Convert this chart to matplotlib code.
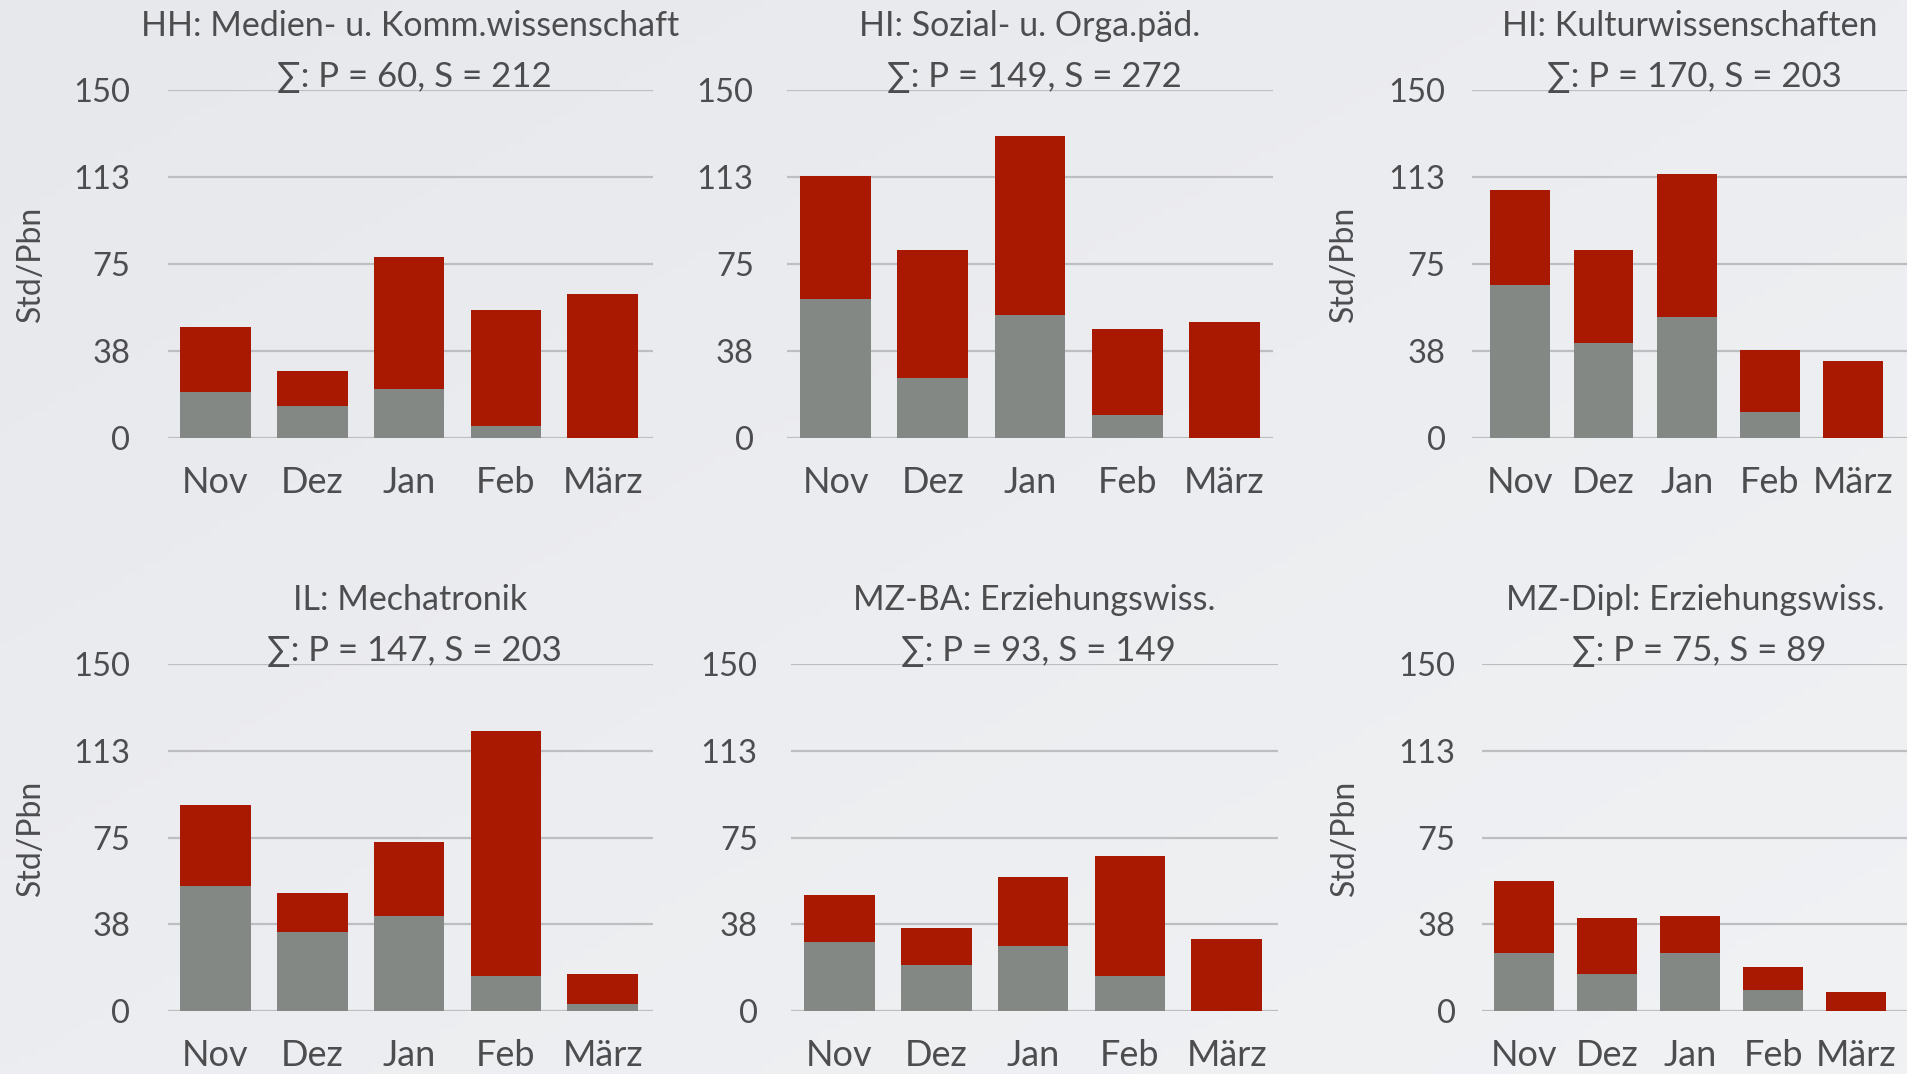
import numpy as np
import matplotlib
matplotlib.use("Agg")
import matplotlib.pyplot as plt

plt.rcParams['font.family'] = ['Lato', 'DejaVu Sans']

months = ["Nov", "Dez", "Jan", "Feb", "März"]
yticks = [0, 37.5, 75, 112.5, 150]
ytick_labels = ["0", "38", "75", "113", "150"]

titles = [
    "HH: Medien- u. Komm.wissenschaft",
    "HI: Sozial- u. Orga.päd.",
    "HI: Kulturwissenschaften",
    "IL: Mechatronik",
    "MZ-BA: Erziehungswiss.",
    "MZ-Dipl: Erziehungswiss.",
]
sums = [
    "∑: P = 60, S = 212",
    "∑: P = 149, S = 272",
    "∑: P = 170, S = 203",
    "∑: P = 147, S = 203",
    "∑: P = 93, S = 149",
    "∑: P = 75, S = 89",
]

# gray part (P) and red part (S) per month
p_hh_medien = [20, 14, 21, 5, 0]
s_hh_medien = [28, 15, 57, 50, 62]
p_hi_sozial = [60, 26, 53, 10, 0]
s_hi_sozial = [53, 55, 77, 37, 50]
p_hi_kultur = [66, 41, 52, 11, 0]
s_hi_kultur = [41, 40, 62, 27, 33]
p_il_mecha = [54, 34, 41, 15, 3]
s_il_mecha = [35, 17, 32, 106, 13]
p_mz_ba = [30, 20, 28, 15, 0]
s_mz_ba = [20, 16, 30, 52, 31]
p_mz_dipl = [25, 16, 25, 9, 0]
s_mz_dipl = [31, 24, 16, 10, 8]

p_vals = [p_hh_medien, p_hi_sozial, p_hi_kultur, p_il_mecha, p_mz_ba, p_mz_dipl]
s_vals = [s_hh_medien, s_hi_sozial, s_hi_kultur, s_il_mecha, s_mz_ba, s_mz_dipl]

# layout: axes rect (px), xlim, bar width, tick pad, ylabel x (None = no label)
W, H = 1908, 1074
layout = [
    ((168, 90, 653, 438), (-0.49, 4.52), 0.73, 27, -0.252),
    ((787, 90, 1273, 438), (-0.50, 4.50), 0.73, 24, None),
    ((1472, 90, 1908, 438), (-0.58, 4.66), 0.72, 19, -0.259),
    ((168, 664, 653, 1011), (-0.49, 4.52), 0.73, 27, -0.252),
    ((791, 664, 1278, 1011), (-0.50, 4.53), 0.73, 24, None),
    ((1482, 664, 1908, 1011), (-0.50, 4.62), 0.72, 19, -0.286),
]

text_col = "#4d4d4f"
red = "#a91800"
gray = "#838884"
grid_col = "#bdbec0"

fig = plt.figure(figsize=(W / 100, H / 100), dpi=100)
fig.patch.set_facecolor("#ecedf0")

# soft background gradient
bg = fig.add_axes([0, 0, 1, 1], zorder=-10)
gx = np.linspace(0, 1, 200)
gy = np.linspace(0, 1, 120)
GX, GY = np.meshgrid(gx, gy)
grad = 0.5 * GX + 0.5 * GY
bg.imshow(grad, cmap=matplotlib.colors.LinearSegmentedColormap.from_list(
    "bg", ["#e7e8ec", "#f1f2f4"]), aspect="auto", extent=[0, 1, 0, 1])
bg.axis("off")

x = np.arange(len(months))
for i in range(6):
    (l, t, r, b), xlim, bw, pad, ylab_x = layout[i]
    ax = fig.add_axes([l / W, 1 - b / H, (r - l) / W, (b - t) / H])
    ax.set_facecolor("none")
    ax.bar(x, p_vals[i], width=bw, color=gray, zorder=3)
    ax.bar(x, s_vals[i], width=bw, bottom=p_vals[i], color=red, zorder=3)
    ax.set_xlim(*xlim)
    ax.set_ylim(0, 150)
    ax.set_yticks(yticks)
    ax.set_yticklabels(ytick_labels)
    ax.set_xticks(x)
    ax.set_xticklabels(months)
    ax.grid(axis="y", color=grid_col, linewidth=1.6, zorder=0)
    ax.set_axisbelow(True)
    for sp in ax.spines.values():
        sp.set_visible(False)
    ax.tick_params(axis="y", length=0, pad=pad, labelsize=23.5, colors=text_col)
    ax.tick_params(axis="x", length=0, pad=20, labelsize=26, colors=text_col)
    if ylab_x is not None:
        ax.set_ylabel("Std/Pbn", fontsize=23, color=text_col)
        ax.yaxis.set_label_coords(ylab_x, 0.5)
    ax.annotate(titles[i], xy=(0.5, 1), xycoords="axes fraction",
                xytext=(0, 64), textcoords="offset pixels",
                ha="center", va="center", fontsize=24.5, color=text_col)
    ax.annotate(sums[i], xy=(0.5, 1), xycoords="axes fraction",
                xytext=(4, 13), textcoords="offset pixels",
                ha="center", va="center", fontsize=25, color=text_col)

fig.savefig("out.png", dpi=100, facecolor=fig.get_facecolor())
